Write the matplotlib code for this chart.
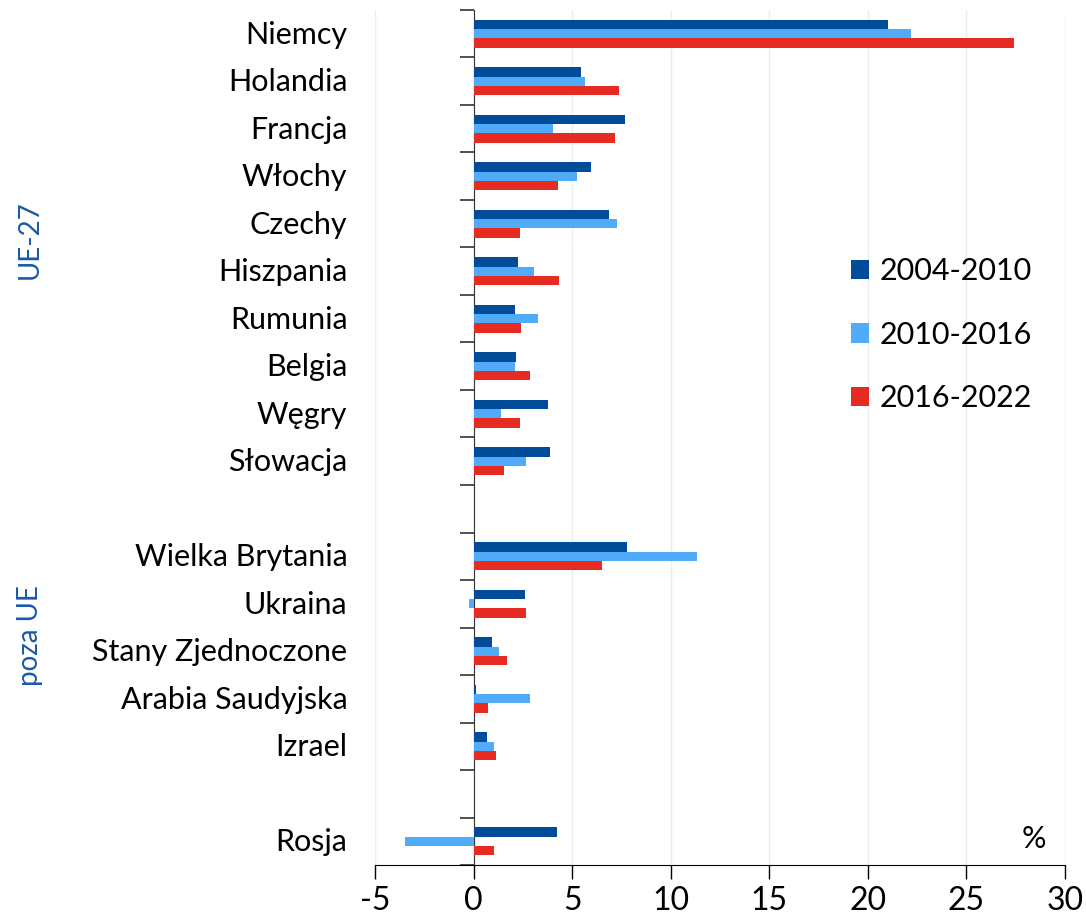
import numpy as np
import matplotlib
matplotlib.use("Agg")
import matplotlib.pyplot as plt

plt.rcParams['font.family'] = ['Lato', 'DejaVu Sans']
plt.rcParams['axes.unicode_minus'] = False

# dane (udział w zmianie, %)
countries = ['Niemcy', 'Holandia', 'Francja', 'Włochy', 'Czechy', 'Hiszpania',
             'Rumunia', 'Belgia', 'Węgry', 'Słowacja', '',
             'Wielka Brytania', 'Ukraina', 'Stany Zjednoczone', 'Arabia Saudyjska',
             'Izrael', '', 'Rosja']
p2004_2010 = [21.0, 5.47, 7.7, 5.97, 6.88, 2.26, 2.11, 2.16, 3.77, 3.9, np.nan,
              7.76, 2.59, 0.92, 0.12, 0.66, np.nan, 4.22]
p2010_2016 = [22.2, 5.66, 4.05, 5.25, 7.29, 3.07, 3.26, 2.09, 1.40, 2.67, np.nan,
              11.34, -0.25, 1.29, 2.85, 1.02, np.nan, -3.47]
p2016_2022 = [27.4, 7.4, 7.15, 4.28, 2.34, 4.32, 2.43, 2.85, 2.35, 1.52, np.nan,
              6.53, 2.68, 1.69, 0.73, 1.14, np.nan, 1.03]
series_names = ['2004-2010', '2010-2016', '2016-2022']
colors = ['#004c99', '#52abf8', '#e52b22']

fig = plt.figure(figsize=(10.86, 9.22), dpi=100)
ax = fig.add_axes([375/1086, 1 - 865/922, 690/1086, 855/922])

y = np.arange(len(countries))
h = 0.196
for i, (vals, c, name) in enumerate(zip([p2004_2010, p2010_2016, p2016_2022], colors, series_names)):
    ax.barh(y + (i - 1) * h, vals, height=h, color=c, label=name, zorder=3)

ax.set_xlim(-5, 30)
ax.set_ylim(len(countries) - 0.5, -0.5)
ax.set_xticks(np.arange(-5, 31, 5))
ax.tick_params(axis='x', labelsize=23, length=10, width=1, pad=5, direction='out')
ax.grid(axis='x', color='#ececec', linewidth=1, zorder=0)

ax.set_yticks(np.arange(-0.5, len(countries), 1))
ax.set_yticklabels([])
ax.tick_params(axis='y', length=10, width=1.2, color='#333333', direction='out')
ax.spines['left'].set_position(('data', 0))
ax.spines['top'].set_visible(False)
ax.spines['right'].set_visible(False)
ax.spines['left'].set_color('#333333')

tr = ax.get_yaxis_transform()
for yi, name in zip(y, countries):
    if name:
        ax.text(-0.04, yi + 0.02, name, transform=tr, ha='right', va='center', fontsize=22)

fig.text(30/1086, 1 - 240/922, 'UE-27', rotation=90, ha='center', va='center',
         fontsize=20, color='#1a5aa8')
fig.text(30/1086, 1 - 636/922, 'poza UE', rotation=90, ha='center', va='center',
         fontsize=20, color='#1a5aa8')

ax.text(0.955, y[-1] - 0.05, '%', transform=tr, ha='center', va='center', fontsize=22)

ax.legend(loc='upper left', bbox_to_anchor=(0.672, 0.725), frameon=False, fontsize=22,
          handlelength=0.6, handleheight=0.6, handletextpad=0.35, labelspacing=1.16,
          borderaxespad=0)

fig.savefig('out.png', dpi=100)
